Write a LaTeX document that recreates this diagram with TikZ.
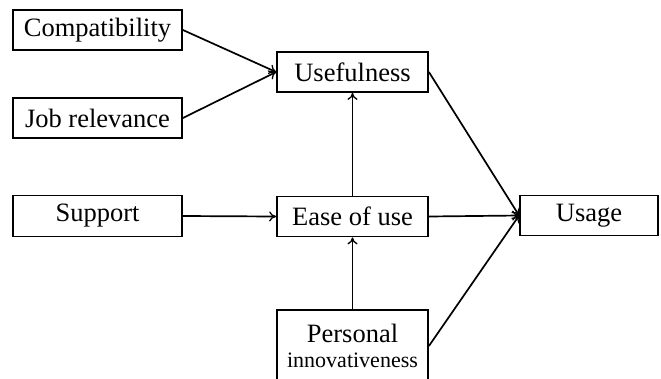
\documentclass[tikz,border=0pt]{standalone}
\usepackage{fontspec}
\setmainfont{Liberation Serif}
\usetikzlibrary{arrows.meta}
\begin{document}
\begin{tikzpicture}[x=1pt,y=-1pt,
  box/.style={draw=black, line width=1.8pt, fill=white, inner sep=0pt,
    font=\fontsize{26.5}{28}\selectfont, align=center},
  link/.style={line width=1.7pt, -{To[length=7pt,width=10pt,line width=1.3pt]}}]
\useasboundingbox (0,0) rectangle (661,378);
% constructs
\node[box, minimum width=169pt, minimum height=40pt] (compat) at (97.5,30) {Compatibility};
\node[box, minimum width=169pt, minimum height=40pt] (job) at (97.5,118) {Job relevance};
\node[box, minimum width=169pt, minimum height=41pt] (support) at (97.5,216) {Support};
\node[box, minimum width=151pt, minimum height=40pt] (useful) at (352.5,72) {Usefulness};
\node[box, minimum width=151pt, minimum height=40pt] (ease) at (352.5,216.5) {Ease of use};
\node[box, minimum width=138pt, minimum height=40pt] (usage) at (589,215.5) {Usage};
\node[box, minimum width=151pt, minimum height=72pt] (pers) at (352.5,346)
  {Personal\\[-3pt]{\fontsize{22}{24}\selectfont innovativeness}};
% relations
\draw[link] (compat.east) -- (useful.west);
\draw[link] (job.east) -- (useful.west);
\draw[link] (support.east) -- (ease.west);
\draw[link] (ease.north) -- (useful.south);
\draw[link] (pers.north) -- (ease.south);
\draw[link] (useful.east) -- (usage.west);
\draw[link] (ease.east) -- (usage.west);
\draw[link] (pers.east) -- (usage.west);
\end{tikzpicture}
\end{document}
